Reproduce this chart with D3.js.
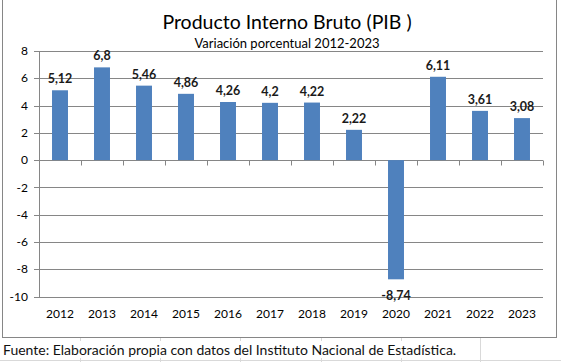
<!DOCTYPE html>
<html>
<head>
<meta charset="utf-8">
<script src="https://cdn.jsdelivr.net/npm/d3@7"></script>
<style>
  body { margin: 0; background: #fff; }
  svg { display: block; font-family: Lato, "Open Sans", sans-serif; }
</style>
</head>
<body>
<div class="container"></div>
<script>
// Data
const years = ["2012", "2013", "2014", "2015", "2016", "2017", "2018", "2019", "2020", "2021", "2022", "2023"];
const values = [5.12, 6.8, 5.46, 4.86, 4.26, 4.2, 4.22, 2.22, -8.74, 6.11, 3.61, 3.08];
const yTicks = [-10, -8, -6, -4, -2, 0, 2, 4, 6, 8];
const labels = ["5,12", "6,8", "5,46", "4,86", "4,26", "4,2", "4,22", "2,22", "-8,74", "6,11", "3,61", "3,08"];

const WIDTH = 561;
const HEIGHT = 362;
const GRID = "#868686";

const svg = d3.select(".container")
  .append("svg")
  .attr("width", WIDTH)
  .attr("height", HEIGHT);

// Spreadsheet cells behind the chart
const cells = svg.append("g").attr("stroke", "#d9d9d9").attr("stroke-width", 1);
[80, 160, 240, 321, 401, 480].forEach((x) => {
  cells.append("line").attr("x1", x + 0.5).attr("x2", x + 0.5).attr("y1", 338).attr("y2", HEIGHT);
});
cells.append("line").attr("x1", 0).attr("x2", WIDTH).attr("y1", 360.5).attr("y2", 360.5);

// Text overflow hides the cell lines in its row
svg.append("rect")
  .attr("x", 0).attr("y", 341)
  .attr("width", 460).attr("height", 17)
  .attr("fill", "#fff");

// Chart frame
svg.append("rect")
  .attr("x", 2.5).attr("y", -1)
  .attr("width", 554).attr("height", 338.5)
  .attr("fill", "#fff")
  .attr("stroke", GRID);

// Scales
const x = d3.scaleBand()
  .domain(years)
  .range([39, 543])
  .paddingInner(0.62)
  .paddingOuter(0.31);

const y = d3.scaleLinear()
  .domain([-10, 8])
  .range([296.5, 51]);

// Gridlines
svg.append("g")
  .selectAll("line")
  .data(yTicks)
  .join("line")
  .attr("x1", 34)
  .attr("x2", 543)
  .attr("y1", (d) => Math.round(y(d)) + 0.5)
  .attr("y2", (d) => Math.round(y(d)) + 0.5)
  .attr("stroke", GRID);

// Y axis line
svg.append("line")
  .attr("x1", 39.5).attr("x2", 39.5)
  .attr("y1", Math.round(y(8)) + 0.5)
  .attr("y2", Math.round(y(-10)) + 0.5)
  .attr("stroke", GRID);

// Y tick labels
svg.append("g")
  .selectAll("text")
  .data(yTicks)
  .join("text")
  .attr("x", 28)
  .attr("y", (d) => y(d))
  .attr("dy", "0.35em")
  .attr("text-anchor", "end")
  .attr("font-size", 12)
  .attr("fill", "#000")
  .text((d) => d);

// Bars
svg.append("g")
  .selectAll("rect")
  .data(values)
  .join("rect")
  .attr("x", (d, i) => x(years[i]))
  .attr("width", x.bandwidth())
  .attr("y", (d) => y(Math.max(0, d)))
  .attr("height", (d) => Math.abs(y(d) - y(0)))
  .attr("fill", "#4f81bd");

// Category ticks on the zero line
const y0 = Math.round(y(0)) + 0.5;
const bounds = years.map((d) => x(d) - x.step() * x.paddingOuter()).concat([543]);
svg.append("g")
  .selectAll("line")
  .data(bounds.slice(1))
  .join("line")
  .attr("x1", (d) => Math.round(d) + 0.5)
  .attr("x2", (d) => Math.round(d) + 0.5)
  .attr("y1", y0)
  .attr("y2", y0 + 5)
  .attr("stroke", GRID);

// Year labels
svg.append("g")
  .selectAll("text")
  .data(years)
  .join("text")
  .attr("x", (d) => x(d) + x.bandwidth() / 2)
  .attr("y", 318)
  .attr("text-anchor", "middle")
  .attr("font-size", 12)
  .attr("fill", "#000")
  .text((d) => d);

// Data labels
svg.append("g")
  .selectAll("text")
  .data(values)
  .join("text")
  .attr("x", (d, i) => x(years[i]) + x.bandwidth() / 2)
  .attr("y", (d) => (d >= 0 ? y(d) - 7 : y(d) + 21))
  .attr("text-anchor", "middle")
  .attr("font-size", 12.5)
  .attr("font-weight", "bold")
  .attr("fill", "#1a1a1a")
  .text((d, i) => labels[i]);

// Titles
svg.append("text")
  .attr("x", 287)
  .attr("y", 29)
  .attr("text-anchor", "middle")
  .attr("font-size", 19.5)
  .attr("fill", "#000")
  .text("Producto Interno Bruto (PIB )");

svg.append("text")
  .attr("x", 287)
  .attr("y", 48)
  .attr("text-anchor", "middle")
  .attr("font-size", 13)
  .attr("fill", "#000")
  .text("Variación porcentual 2012-2023");

// Source note
svg.append("text")
  .attr("x", 3)
  .attr("y", 355)
  .attr("font-size", 14)
  .attr("fill", "#111")
  .text("Fuente: Elaboración propia con datos del Instituto Nacional de Estadística.");
</script>
</body>
</html>
